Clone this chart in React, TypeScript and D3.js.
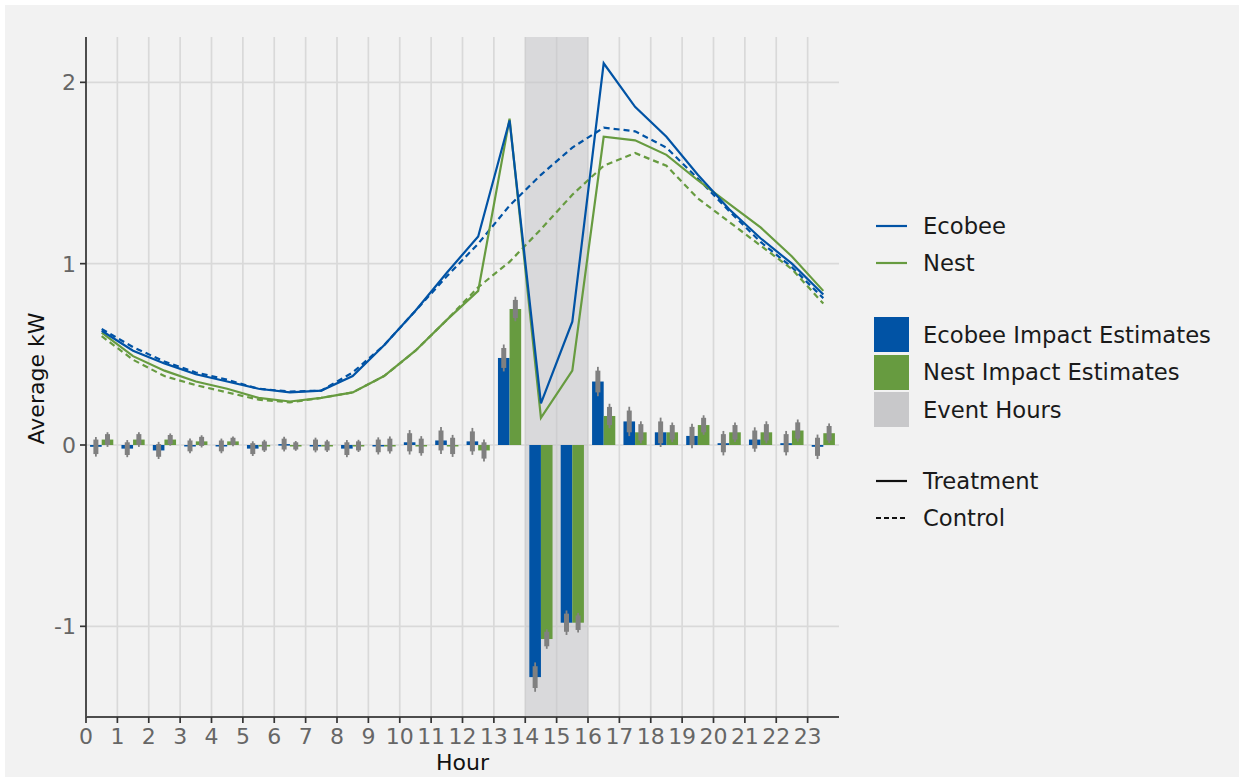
import React from "react";
import * as d3 from "d3";

const hours = d3.range(24);
const xTickLabels = hours.map(String);
const yTicks = [-1, 0, 1, 2];

const ecobeeTreatment = [0.63, 0.52, 0.45, 0.39, 0.35, 0.31, 0.29, 0.30, 0.38, 0.55, 0.74, 0.95, 1.15, 1.79, 0.23, 0.68, 2.105, 1.865, 1.70, 1.49, 1.30, 1.14, 1.00, 0.83];
const ecobeeControl = [0.64, 0.54, 0.46, 0.40, 0.36, 0.31, 0.295, 0.30, 0.40, 0.55, 0.74, 0.93, 1.11, 1.32, 1.49, 1.64, 1.75, 1.73, 1.64, 1.47, 1.29, 1.12, 0.98, 0.81];
const nestTreatment = [0.62, 0.49, 0.41, 0.35, 0.31, 0.26, 0.24, 0.26, 0.29, 0.38, 0.52, 0.69, 0.85, 1.80, 0.15, 0.41, 1.70, 1.68, 1.60, 1.46, 1.33, 1.20, 1.04, 0.85];
const nestControl = [0.60, 0.47, 0.38, 0.33, 0.29, 0.25, 0.235, 0.26, 0.29, 0.38, 0.52, 0.69, 0.87, 1.01, 1.19, 1.38, 1.54, 1.61, 1.54, 1.36, 1.23, 1.10, 0.97, 0.78];

const ecobeeImpact = [-0.01, -0.02, -0.03, -0.005, -0.005, -0.02, 0.005, 0.0, -0.02, -0.005, 0.015, 0.025, 0.02, 0.48, -1.28, -0.98, 0.35, 0.13, 0.07, 0.05, 0.01, 0.03, 0.01, -0.01];
const nestImpact = [0.03, 0.03, 0.03, 0.02, 0.02, -0.005, -0.005, -0.005, -0.005, 0.0, -0.005, -0.005, -0.03, 0.75, -1.07, -0.98, 0.16, 0.07, 0.07, 0.11, 0.07, 0.07, 0.08, 0.065];
const ecobeeHalfWidth = [0.04, 0.035, 0.035, 0.03, 0.03, 0.03, 0.03, 0.03, 0.035, 0.035, 0.05, 0.055, 0.055, 0.055, 0.06, 0.05, 0.06, 0.06, 0.06, 0.05, 0.05, 0.05, 0.05, 0.05];
const nestHalfWidth = [0.03, 0.03, 0.025, 0.025, 0.02, 0.025, 0.02, 0.025, 0.025, 0.035, 0.04, 0.045, 0.045, 0.05, 0.04, 0.04, 0.05, 0.045, 0.04, 0.04, 0.04, 0.045, 0.045, 0.04];

const eventHours = [14, 16];

const BLUE = "#0153a5";
const GREEN = "#679b40";
const ERR = "#808080";
const FONT = "DejaVu Sans";

export default function App() {
  const W = 1244, H = 782;
  const left = 86, right = 839, top = 37, bottom = 717;
  const x = d3.scaleLinear().domain([0, 24]).range([left, right]);
  const y = d3.scaleLinear().domain([-1.5, 2.25]).range([bottom, top]);
  const barW = 0.37;

  const line = d3.line<number>().x((_, i) => x(i + 0.5)).y((d) => y(d));

  const series = [
    { data: ecobeeControl, color: BLUE, dash: "6,4" },
    { data: nestControl, color: GREEN, dash: "6,4" },
    { data: nestTreatment, color: GREEN, dash: null },
    { data: ecobeeTreatment, color: BLUE, dash: null },
  ];

  const bars = [
    { data: ecobeeImpact, hw: ecobeeHalfWidth, color: BLUE, off: -barW },
    { data: nestImpact, hw: nestHalfWidth, color: GREEN, off: 0 },
  ];

  const legendX = 876;
  const textX = 923;
  const LF = 22.7;

  return (
    <svg width={W} height={H} style={{ position: "absolute", left: 0, top: 0 }} fontFamily={FONT}>
      <rect x={0} y={0} width={W} height={H} fill="#ffffff" />
      <rect x={5} y={5} width={W - 10} height={H - 10} fill="#f2f2f2" />
      {/* grid */}
      {hours.map((h) => (
        <line key={"vg" + h} x1={x(h)} x2={x(h)} y1={top} y2={bottom} stroke="#d9d9d9" strokeWidth={1.7} />
      ))}
      {yTicks.map((t) => (
        <line key={"hg" + t} x1={left} x2={right} y1={y(t)} y2={y(t)} stroke="#d9d9d9" strokeWidth={1.7} />
      ))}
      {/* event hours */}
      <rect x={x(eventHours[0])} y={top} width={x(eventHours[1]) - x(eventHours[0])} height={bottom - top} fill="#c4c4c9" opacity={0.55} />
      {/* bars */}
      {bars.map((b, bi) =>
        b.data.map((v, i) => {
          const x0 = x(i + 0.5 + b.off);
          const x1 = x(i + 0.5 + b.off + barW);
          return (
            <rect key={`b${bi}-${i}`} x={x0} width={x1 - x0} y={Math.min(y(v), y(0))} height={Math.max(Math.abs(y(v) - y(0)), 1.5)} fill={b.color} />
          );
        })
      )}
      {bars.map((b, bi) =>
        b.data.map((v, i) => {
          const cx = x(i + 0.5 + b.off + barW / 2);
          const hw = b.hw[i];
          return (
            <g key={`e${bi}-${i}`}>
              <line x1={cx} x2={cx} y1={y(v - hw * 1.35)} y2={y(v + hw * 1.35)} stroke={ERR} strokeWidth={1.8} />
              <line x1={cx} x2={cx} y1={y(v - hw)} y2={y(v + hw)} stroke={ERR} strokeWidth={5} />
            </g>
          );
        })
      )}
      {/* lines */}
      {series.map((s, i) => (
        <path key={"l" + i} d={line(s.data) || ""} fill="none" stroke={s.color} strokeWidth={2.2} strokeDasharray={s.dash || undefined} />
      ))}
      {/* axes */}
      <line x1={left} x2={left} y1={top} y2={bottom} stroke="#4d4d4d" strokeWidth={2} />
      <line x1={left} x2={right} y1={bottom} y2={bottom} stroke="#4d4d4d" strokeWidth={2} />
      {yTicks.map((t) => (
        <g key={"yt" + t}>
          <line x1={left - 6} x2={left} y1={y(t)} y2={y(t)} stroke="#333" strokeWidth={1.7} />
          <text x={left - 10} y={y(t)} dy="0.36em" textAnchor="end" fontSize={22} fill="#666">{t < 0 ? "-" + Math.abs(t) : String(t)}</text>
        </g>
      ))}
      {hours.map((h) => (
        <g key={"xt" + h}>
          <line x1={x(h)} x2={x(h)} y1={bottom} y2={bottom + 6} stroke="#333" strokeWidth={1.7} />
          <text x={x(h)} y={744} textAnchor="middle" fontSize={22} fill="#666">{xTickLabels[h]}</text>
        </g>
      ))}
      <text x={(left + right) / 2} y={770} textAnchor="middle" fontSize={22} fill="#111">Hour</text>
      <text transform={`translate(44, ${(312 + 445) / 2}) rotate(-90)`} textAnchor="middle" fontSize={22} fill="#111">Average kW</text>
      {/* legend */}
      <line x1={legendX} x2={legendX + 31} y1={226} y2={226} stroke={BLUE} strokeWidth={2.2} />
      <text x={textX} y={226} dy="0.36em" fontSize={LF} fill="#1a1a1a">Ecobee</text>
      <line x1={legendX} x2={legendX + 31} y1={263} y2={263} stroke={GREEN} strokeWidth={2.2} />
      <text x={textX} y={263} dy="0.36em" fontSize={LF} fill="#1a1a1a">Nest</text>

      <rect x={874} y={317} width={35} height={35} fill={BLUE} />
      <text x={textX} y={335} dy="0.36em" fontSize={LF} fill="#1a1a1a">Ecobee Impact Estimates</text>
      <rect x={874} y={355} width={35} height={35} fill={GREEN} />
      <text x={textX} y={372} dy="0.36em" fontSize={LF} fill="#1a1a1a">Nest Impact Estimates</text>
      <rect x={874} y={392} width={35} height={35} fill="#c8c8ca" />
      <text x={textX} y={410} dy="0.36em" fontSize={LF} fill="#1a1a1a">Event Hours</text>

      <line x1={legendX} x2={legendX + 31} y1={481} y2={481} stroke="#111" strokeWidth={2.2} />
      <text x={textX} y={481} dy="0.36em" fontSize={LF} fill="#1a1a1a">Treatment</text>
      <line x1={legendX} x2={legendX + 31} y1={518} y2={518} stroke="#111" strokeWidth={2.2} strokeDasharray="5,3" />
      <text x={textX} y={518} dy="0.36em" fontSize={LF} fill="#1a1a1a">Control</text>
    </svg>
  );
}
